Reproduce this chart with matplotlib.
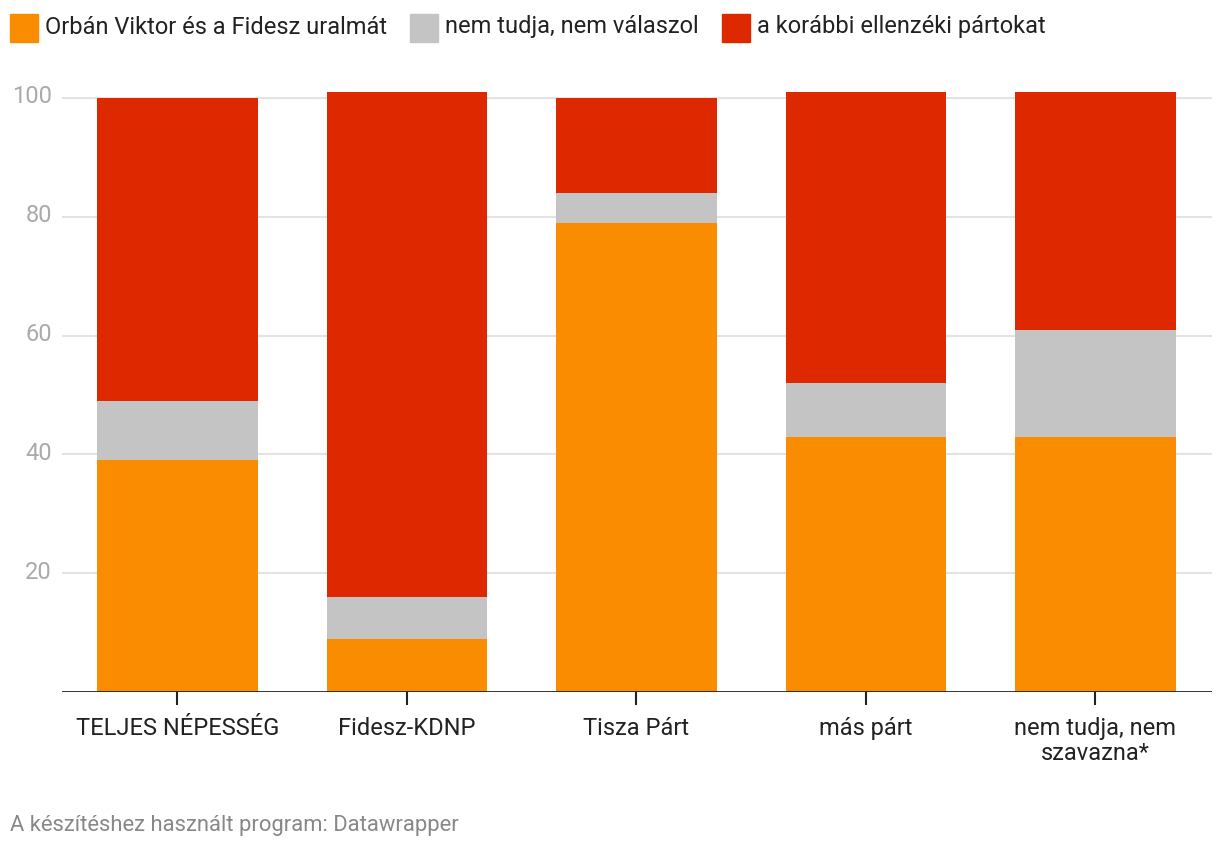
import numpy as np
import matplotlib.pyplot as plt
from matplotlib.patches import Rectangle

plt.rcParams['font.family'] = ['Roboto', 'DejaVu Sans']

# data
groups = ['TELJES NÉPESSÉG', 'Fidesz-KDNP', 'Tisza Párt', 'más párt', 'nem tudja, nem\nszavazna*']
orban = [39, 9, 79, 43, 43]
dunno = [10, 7, 5, 9, 18]
ellenzek = [51, 85, 16, 49, 40]
series_names = ['Orbán Viktor és a Fidesz uralmát', 'nem tudja, nem válaszol', 'a korábbi ellenzéki pártokat']
colors = ['#f98c00', '#c4c4c4', '#de2800']
yticks = [20, 40, 60, 80, 100]

W, H = 1220, 852
fig = plt.figure(figsize=(W / 100, H / 100), dpi=100)
ax = fig.add_axes([62 / W, 160 / H, 1150 / W, 605.9 / H])

x = np.arange(len(groups))
bottom = np.zeros(len(groups))
for vals, col in zip([orban, dunno, ellenzek], colors):
    ax.bar(x, vals, width=0.70, bottom=bottom, color=col, zorder=2)
    bottom += np.array(vals)

ax.set_xlim(-0.503, 4.508)
ax.set_ylim(0, 102)

for yv in yticks:
    ax.axhline(yv, color='#e3e3e3', lw=1.5, zorder=1)
    ax.text(52, ax.transData.transform((0, yv))[1] + 1, str(yv), transform=None,
            ha='right', va='center', fontsize=17, color='#aaaaaa')
ax.axhline(0, color='#222222', lw=2, zorder=3)

for s in ax.spines.values():
    s.set_visible(False)
ax.set_yticks([])
ax.set_xticks(x)
ax.set_xticklabels(groups, fontsize=17, color='#222222', linespacing=1.1)
ax.tick_params(axis='x', length=9, width=1.5, color='#222222', pad=9)

# legend
leg_x = [10, 410, 722]
for lx, name, col in zip(leg_x, series_names, colors):
    fig.patches.append(Rectangle((lx / W, (H - 42) / H), 28 / W, 28 / H,
                                 transform=fig.transFigure, color=col))
    fig.text((lx + 35) / W, (H - 27) / H, name, ha='left', va='center',
             fontsize=17, color='#222222')

fig.text(10 / W, (H - 826) / H, 'A készítéshez használt program: Datawrapper',
         ha='left', va='center', fontsize=15.8, color='#888888')

fig.savefig('out.png', dpi=100)
